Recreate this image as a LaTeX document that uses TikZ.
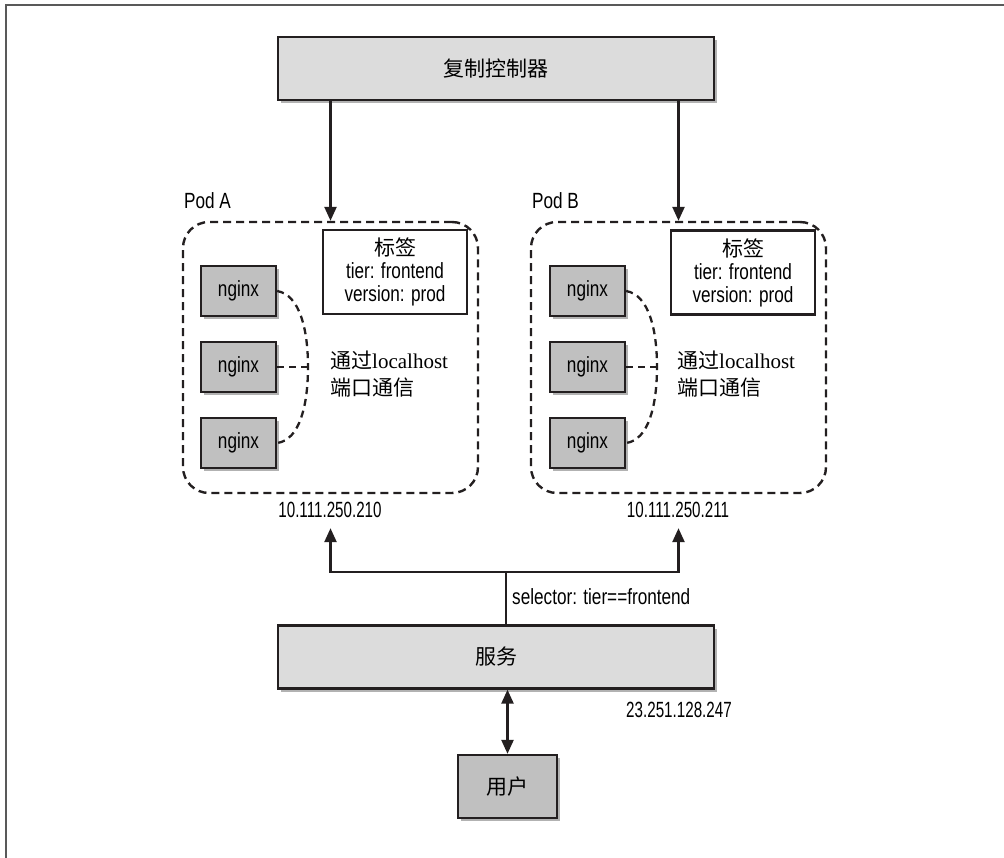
\documentclass[tikz,border=0pt]{standalone}
\usepackage{fontspec}
\setmainfont[FakeStretch=0.78]{Liberation Sans}
\newfontfamily\numfont[FakeStretch=0.69]{Liberation Sans}
\newfontfamily\cjk{Noto Sans CJK SC}
\newfontfamily\seriflat{Liberation Serif}
\usetikzlibrary{arrows.meta,shadows}
\definecolor{ink}{HTML}{231F20}
\definecolor{lightfill}{HTML}{DCDCDC}
\definecolor{midfill}{HTML}{C0C0C0}
\tikzset{
  x=1pt, y=-1pt,
  boxline/.style={draw=ink, line width=2.3pt},
  shadowed/.style={drop shadow={shadow xshift=2.5pt, shadow yshift=-3pt, opacity=0.3, fill=black}},
  bigbox/.style={boxline, fill=lightfill, shadowed, minimum width=436pt, minimum height=63pt, inner sep=0pt, font=\cjk\fontsize{21}{24}\selectfont},
  nginxbox/.style={boxline, fill=midfill, shadowed, minimum width=75pt, minimum height=50pt, inner sep=0pt, font=\fontsize{22}{24}\selectfont},
  userbox/.style={boxline, fill=midfill, shadowed, minimum width=99pt, minimum height=63pt, inner sep=0pt, font=\cjk\fontsize{21}{24}\selectfont},
  labelbox/.style={boxline, fill=white, minimum width=144pt, minimum height=84pt, inner sep=0pt, align=center, font=\fontsize{22}{23}\selectfont},
  podbox/.style={draw=ink, line width=2.4pt, dash pattern=on 8pt off 5pt, rounded corners=26pt, minimum width=295pt, minimum height=271pt, inner sep=0pt},
  plain/.style={inner sep=0pt, font=\fontsize{22}{24}\selectfont},
  ipstyle/.style={inner sep=0pt, font=\numfont\fontsize{22}{24}\selectfont},
  commtext/.style={inner sep=0pt, align=left, font=\fontsize{21}{27}\selectfont},
  conn/.style={draw=ink, line width=2.4pt},
  arr/.style={conn, -{Triangle[length=14pt,width=12pt]}},
  darr/.style={conn, {Triangle[length=14pt,width=12pt]}-{Triangle[length=14pt,width=12pt]}},
  dashconn/.style={draw=ink, line width=2.3pt, dash pattern=on 7pt off 5pt},
}
\begin{document}
\begin{tikzpicture}
\useasboundingbox (0,0) rectangle (1004,858);
% frame
\draw[draw=black!65, line width=1.6pt] (6,858) -- (6,5) -- (1004,5);

% replication controller
\node[bigbox] (rc) at (496,68.5) {复制控制器};

% pods
\node[podbox] (podA) at (330.5,357.5) {};
\node[podbox] (podB) at (678.5,357.5) {};
\node[plain, anchor=west] (podAl) at (184,201) {Pod A};
\node[plain, anchor=west] (podBl) at (532,201) {Pod B};

% labels
\node[labelbox] (labA) at (395,272) {{\cjk\fontsize{21}{23}\selectfont 标签}\\tier: frontend\\version: prod};
\node[labelbox] (labB) at (743,272.5) {{\cjk\fontsize{21}{23}\selectfont 标签}\\tier: frontend\\version: prod};

% nginx pod A
\node[nginxbox] (a1) at (238.5,291) {nginx};
\node[nginxbox] (a2) at (238.5,367) {nginx};
\node[nginxbox] (a3) at (238.5,443) {nginx};
% nginx pod B
\node[nginxbox] (b1) at (587.5,291) {nginx};
\node[nginxbox] (b2) at (587.5,367) {nginx};
\node[nginxbox] (b3) at (587.5,443) {nginx};

% localhost curves
\coordinate (ma) at (308,367);
\coordinate (mb) at (657,367);
\draw[dashconn] (a1.east) .. controls (300,295) and (308,330) .. (ma) .. controls (308,404) and (300,440) .. (a3.east);
\draw[dashconn] (a2.east) -- (ma);
\draw[dashconn] (b1.east) .. controls (649,295) and (657,330) .. (mb) .. controls (657,404) and (649,440) .. (b3.east);
\draw[dashconn] (b2.east) -- (mb);

\node[commtext, anchor=west] (ca) at (330,374) {{\cjk 通过}{\seriflat localhost}\\{\cjk 端口通信}};
\node[commtext, anchor=west] (cb) at (677,374) {{\cjk 通过}{\seriflat localhost}\\{\cjk 端口通信}};

% IPs
\node[ipstyle] (ipA) at (330,510) {10.111.250.210};
\node[ipstyle] (ipB) at (678,510) {10.111.250.211};

% rc arrows
\draw[arr] (rc.south -| podA.north) -- (podA.north);
\draw[arr] (rc.south -| podB.north) -- (podB.north);

% service
\node[bigbox] (svc) at (496,657) {服务};
\coordinate (sj) at (506,572);
\draw[conn] (svc.north -| sj) -- (sj);
\draw[arr] (sj) -| ([yshift=-34pt]podA.south);
\draw[arr] (sj) -| ([yshift=-34pt]podB.south);
\node[plain, anchor=west] (sel) at (512,597) {selector: tier==frontend};
\node[ipstyle] (svcip) at (679,710) {23.251.128.247};

% user
\node[userbox] (user) at (507.5,786.5) {用户};
\draw[darr] (svc.south -| user.north) -- (user.north);
\end{tikzpicture}
\end{document}
